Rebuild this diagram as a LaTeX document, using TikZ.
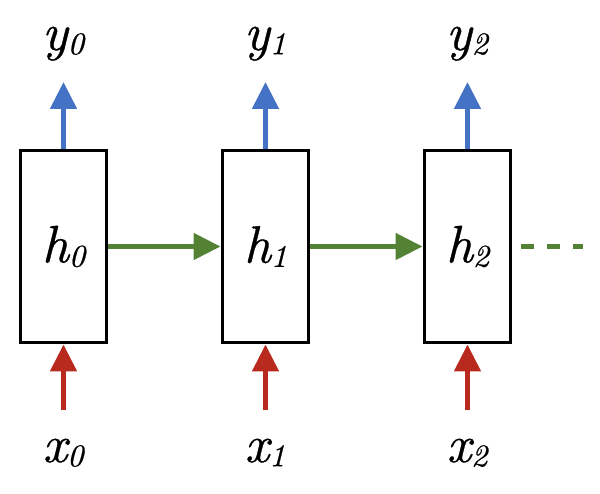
\documentclass[tikz,border=0pt]{standalone}
\usepackage{fontspec}
\newfontfamily\labelfont{lmroman10-italic.otf}[FakeBold=0.6]
\usetikzlibrary{arrows.meta}
\definecolor{outblue}{HTML}{4472C4}
\definecolor{inred}{HTML}{B8291E}
\definecolor{stgreen}{HTML}{548235}
\newcommand{\lbl}[2]{{\labelfont #1\raisebox{-0.08em}{\fontsize{18pt}{18pt}\selectfont #2}}}
\begin{document}
\begin{tikzpicture}[x=0.02cm, y=-0.02cm,
    cell/.style={draw, line width=1.7pt, minimum width=1.74cm, minimum height=3.86cm, inner sep=0pt, font=\fontsize{30pt}{30pt}\selectfont},
    lab/.style={anchor=base, inner sep=0pt, font=\fontsize{30pt}{30pt}\selectfont},
    arr/.style={-{Triangle[length=0.54cm, width=0.52cm]}, line width=0.1cm},
]
\useasboundingbox (0,0) rectangle (600,494);

% Hidden-state cells
\node[cell] (h0) at (63.5,246.5) {\lbl{h}{0}};
\node[cell] (h1) at (265.5,246.5) {\lbl{h}{1}};
\node[cell] (h2) at (467.5,246.5) {\lbl{h}{2}};

% Outputs
\node[lab] (y0) at (63,50) {\lbl{y}{0}};
\node[lab] (y1) at (265,50) {\lbl{y}{1}};
\node[lab] (y2) at (467,50) {\lbl{y}{2}};
\coordinate (yt0) at (63.5,82);
\coordinate (yt1) at (265.5,82);
\coordinate (yt2) at (467.5,82);

% Inputs
\node[lab] (x0) at (63,462) {\lbl{x}{0}};
\node[lab] (x1) at (265,462) {\lbl{x}{1}};
\node[lab] (x2) at (467,462) {\lbl{x}{2}};
\coordinate (xt0) at (63.5,410);
\coordinate (xt1) at (265.5,410);
\coordinate (xt2) at (467.5,410);

% Edges
\draw[arr, outblue] (h0.north) -- (yt0);
\draw[arr, outblue] (h1.north) -- (yt1);
\draw[arr, outblue] (h2.north) -- (yt2);
\draw[arr, inred] (xt0) -- (h0.south);
\draw[arr, inred] (xt1) -- (h1.south);
\draw[arr, inred] (xt2) -- (h2.south);
\draw[arr, stgreen] (h0.east) -- (h1.west);
\draw[arr, stgreen] (h1.east) -- (h2.west);

% Continuation
\coordinate (more) at (583,246.5);
\draw[stgreen, line width=0.1cm, dash pattern=on 0.26cm off 0.26cm, shorten <=0.18cm] (h2.east) -- (more);

\end{tikzpicture}
\end{document}
